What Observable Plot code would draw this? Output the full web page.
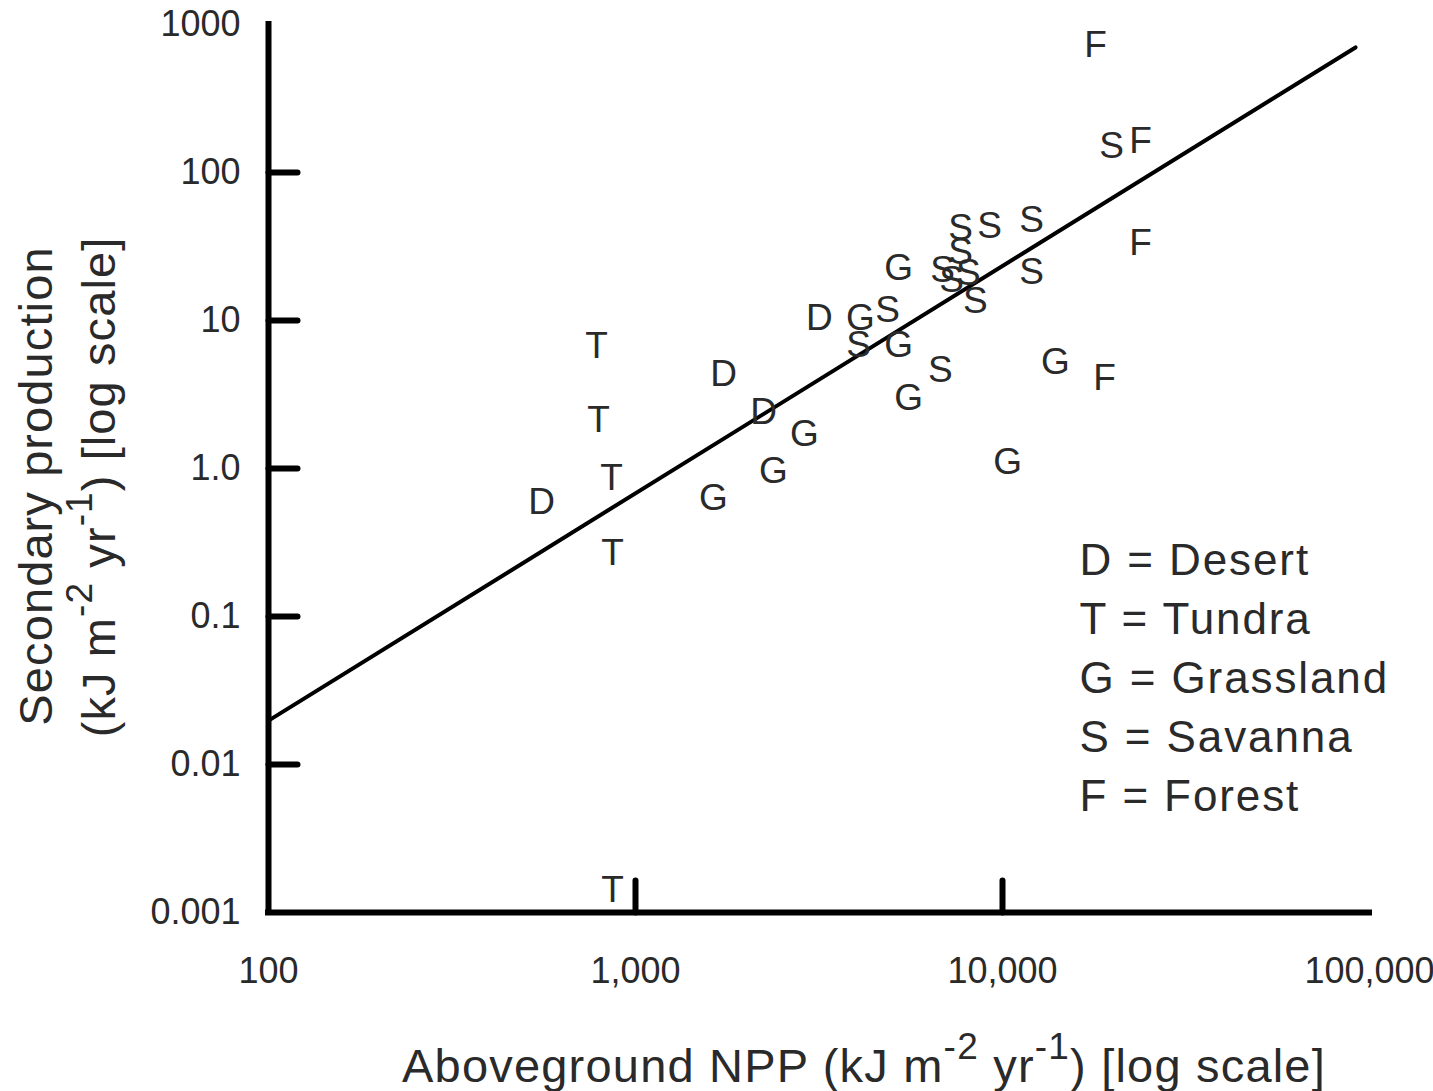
<!DOCTYPE html>
<html>
<head>
<meta charset="utf-8">
<script src="https://cdn.jsdelivr.net/npm/d3@7"></script>
<script src="https://cdn.jsdelivr.net/npm/@observablehq/plot@0.6"></script>
<style>
  html, body { margin: 0; padding: 0; background: #fff; }
  #chart { width: 1433px; height: 1091px; }
  svg { font-family: "Liberation Sans", Arial, sans-serif; }
</style>
</head>
<body>
<div id="chart"></div>
<script>
// ---- Data (NPP kJ m-2 yr-1, secondary production kJ m-2 yr-1)
const desertX = [555, 1738, 2233, 3170];
const desertY = [0.589, 4.32, 2.39, 10.3];
const tundraX = [783, 793, 860, 866, 866];
const tundraY = [6.67, 2.11, 0.855, 0.267, 0.00141];
const grassX = [1631, 2377, 2887, 4102, 5209, 5209, 5546, 10320, 13940];
const grassY = [0.627, 0.955, 1.70, 10.3, 6.78, 22.5, 2.97, 1.10, 5.20];
const savannaX = [4052, 4862, 6776, 6866, 7261, 7687, 7687, 8075, 8440, 9225, 12000, 12000, 19820];
const savannaY = [6.78, 11.7, 4.59, 21.8, 18.6, 41.9, 28.8, 20.8, 13.6, 43.2, 47.4, 21.1, 150];
const forestX = [17920, 23770, 23770, 18960];
const forestY = [721, 164, 33.1, 4.06];

// regression line end points
const fitX = [100, 91600];
const fitY = [0.0198, 700];

// legend
const codes = ["D", "T", "G", "S", "F"];
const names = ["Desert", "Tundra", "Grassland", "Savanna", "Forest"];

// ticks
const xTicks = [100, 1000, 10000, 100000];
const xTickLabels = ["100", "1,000", "10,000", "100,000"];
const xInnerTicks = [1000, 10000];
const yTicks = [0.001, 0.01, 0.1, 1, 10, 100, 1000];
const yTickLabels = ["0.001", "0.01", "0.1", "1.0", "10", "100", "1000"];
const yInnerTicks = [0.01, 0.1, 1, 10, 100];

// ---- build tables
const groups = [
  ["D", desertX, desertY],
  ["T", tundraX, tundraY],
  ["G", grassX, grassY],
  ["S", savannaX, savannaY],
  ["F", forestX, forestY]
];
const points = groups.flatMap(([c, xs, ys]) => xs.map((x, i) => ({code: c, x, y: ys[i]})));
const fit = fitX.map((x, i) => ({x, y: fitY[i]}));
const legendText = codes.map((c, i) => `${c} = ${names[i]}`).join("\n");
const xLab = new Map(xTicks.map((t, i) => [t, xTickLabels[i]]));
const yLab = new Map(yTicks.map((t, i) => [t, yTickLabels[i]]));

const tickShape = {draw(context, l) { context.moveTo(0, 0); context.lineTo(0, -l); }};
const ink = "#2a2a2a";

const chart = Plot.plot({
  width: 1433,
  height: 1091,
  marginLeft: 268,
  marginRight: 64,
  marginTop: 24,
  marginBottom: 179,
  style: {fontFamily: '"Liberation Sans", Arial, sans-serif', background: "#fff", overflow: "visible"},
  x: {type: "log", domain: [100, 100000]},
  y: {type: "log", domain: [0.001, 1000]},
  marks: [
    Plot.axisX({ticks: xTicks, tickSize: 0, tickPadding: 45, tickFormat: d => xLab.get(d), fontSize: 36, fill: ink, label: null}),
    Plot.axisY({ticks: yTicks, tickSize: 0, tickPadding: 28, tickFormat: d => yLab.get(d), fontSize: 36, fill: ink, label: null}),
    Plot.line(fit, {x: "x", y: "y", stroke: "#000", strokeWidth: 4}),
    Plot.text(points, {x: "x", y: "y", text: "code", fontSize: 37, fill: ink}),
    Plot.ruleX([100], {stroke: "#000", strokeWidth: 6, strokeLinecap: "square"}),
    Plot.ruleY([0.001], {stroke: "#000", strokeWidth: 6, strokeLinecap: "square"}),
    Plot.vector(xInnerTicks, {x: d => d, frameAnchor: "bottom", anchor: "start", length: 32, rotate: 0, shape: tickShape, stroke: "#000", strokeWidth: 6}),
    Plot.vector(yInnerTicks, {y: d => d, frameAnchor: "left", anchor: "start", length: 29, rotate: 90, shape: tickShape, stroke: "#000", strokeWidth: 6}),
    Plot.text([legendText], {frameAnchor: "top-left", dx: 811, dy: 509, textAnchor: "start", lineAnchor: "top", lineHeight: 1.34, fontSize: 44, fill: ink})
  ]
});
document.getElementById("chart").appendChild(chart);

const svg = d3.select(chart);
// wider letter spacing on legend, as in the reference
const textGroups = svg.selectAll('g[aria-label="text"]').nodes();
d3.select(textGroups[textGroups.length - 1]).attr("letter-spacing", 1.9);

// ---- axis titles with superscripts
const xt = svg.append("text")
  .attr("x", 864).attr("y", 1082)
  .attr("text-anchor", "middle")
  .attr("font-size", 47).attr("letter-spacing", 1.2).attr("fill", ink);
xt.append("tspan").text("Aboveground NPP (kJ m");
xt.append("tspan").attr("dy", -23).attr("font-size", 37).text("-2");
xt.append("tspan").attr("dy", 23).text(" yr");
xt.append("tspan").attr("dy", -23).attr("font-size", 37).text("-1");
xt.append("tspan").attr("dy", 23).text(") [log scale]");

const yg = svg.append("g").attr("fill", ink).attr("font-size", 47).attr("letter-spacing", 1.1);
yg.append("text")
  .attr("transform", "translate(52,486) rotate(-90)")
  .attr("text-anchor", "middle")
  .text("Secondary production");
const yt = yg.append("text")
  .attr("transform", "translate(115,487) rotate(-90)")
  .attr("text-anchor", "middle");
yt.append("tspan").text("(kJ m");
yt.append("tspan").attr("dy", -23).attr("font-size", 37).text("-2");
yt.append("tspan").attr("dy", 23).text(" yr");
yt.append("tspan").attr("dy", -23).attr("font-size", 37).text("-1");
yt.append("tspan").attr("dy", 23).text(") [log scale]");
</script>
</body>
</html>
